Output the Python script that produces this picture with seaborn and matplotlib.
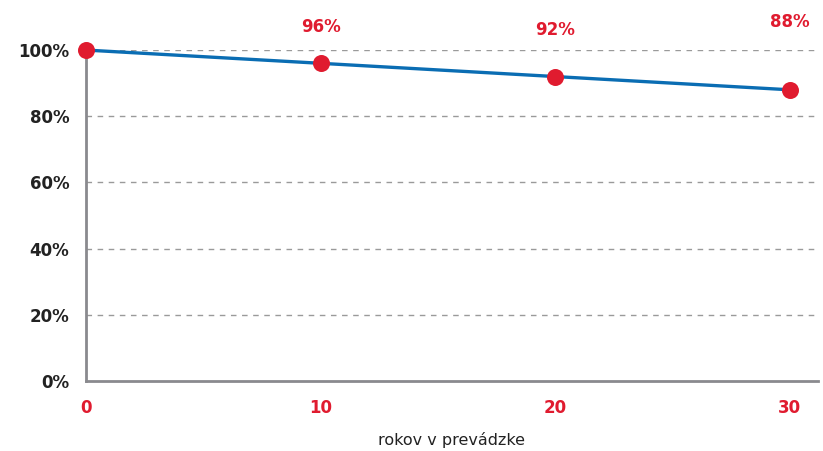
import numpy as np
import pandas as pd
import matplotlib
matplotlib.use("Agg")
import matplotlib.pyplot as plt
import seaborn as sns
from matplotlib.ticker import FuncFormatter

years = [0, 10, 20, 30]
output = [100, 96, 92, 88]
labels = ["", "96%", "92%", "88%"]
label_y = [None, 107, 106, 108.5]
y_ticks = [0, 20, 40, 60, 80, 100]
x_ticks = [0, 10, 20, 30]

BLUE = "#0a6db3"
RED = "#e01b2f"
DARK = "#222222"
GRAY = "#8a8a8e"


def main():
    sns.set_theme(style="white")
    plt.rcParams["font.family"] = ["DejaVu Sans"]

    df = pd.DataFrame({"year": years, "output": output})

    fig = plt.figure(figsize=(8.23, 4.51), dpi=100)
    ax = fig.add_axes([0.1045, 0.155, 0.889, 0.734])

    for yv in y_ticks[1:]:
        ax.axhline(yv, color="#9a9a9a", lw=1, ls=(0, (4, 4)), zorder=0)

    sns.lineplot(data=df, x="year", y="output", ax=ax, color=BLUE, lw=2.4,
                 zorder=2, clip_on=False)
    ax.scatter(df["year"], df["output"], s=150, color=RED, zorder=3,
               clip_on=False, linewidths=0)

    for x, lab, ly in zip(years, labels, label_y):
        if lab:
            ax.text(x, ly, lab, color=RED, fontsize=12, fontweight="bold",
                    ha="center", va="center", clip_on=False)

    ax.set_xlim(0, 31.2)
    ax.set_ylim(0, 100)
    ax.set_xticks(x_ticks)
    ax.set_yticks(y_ticks)
    ax.yaxis.set_major_formatter(FuncFormatter(lambda v, p: f"{v:.0f}%"))
    ax.tick_params(axis="y", length=0, pad=12, labelsize=12, labelcolor=DARK)
    ax.tick_params(axis="x", length=0, pad=13, labelsize=12, labelcolor=RED)
    for t in ax.get_xticklabels() + ax.get_yticklabels():
        t.set_fontweight("bold")

    ax.set_xlabel("rokov v prevádzke", fontsize=11.5, color=DARK, labelpad=10.5)
    ax.set_ylabel("")

    for s in ["top", "right"]:
        ax.spines[s].set_visible(False)
    for s in ["left", "bottom"]:
        ax.spines[s].set_color(GRAY)
        ax.spines[s].set_linewidth(2)

    fig.savefig("out.png", dpi=100)
    plt.close(fig)


if __name__ == "__main__":
    main()
